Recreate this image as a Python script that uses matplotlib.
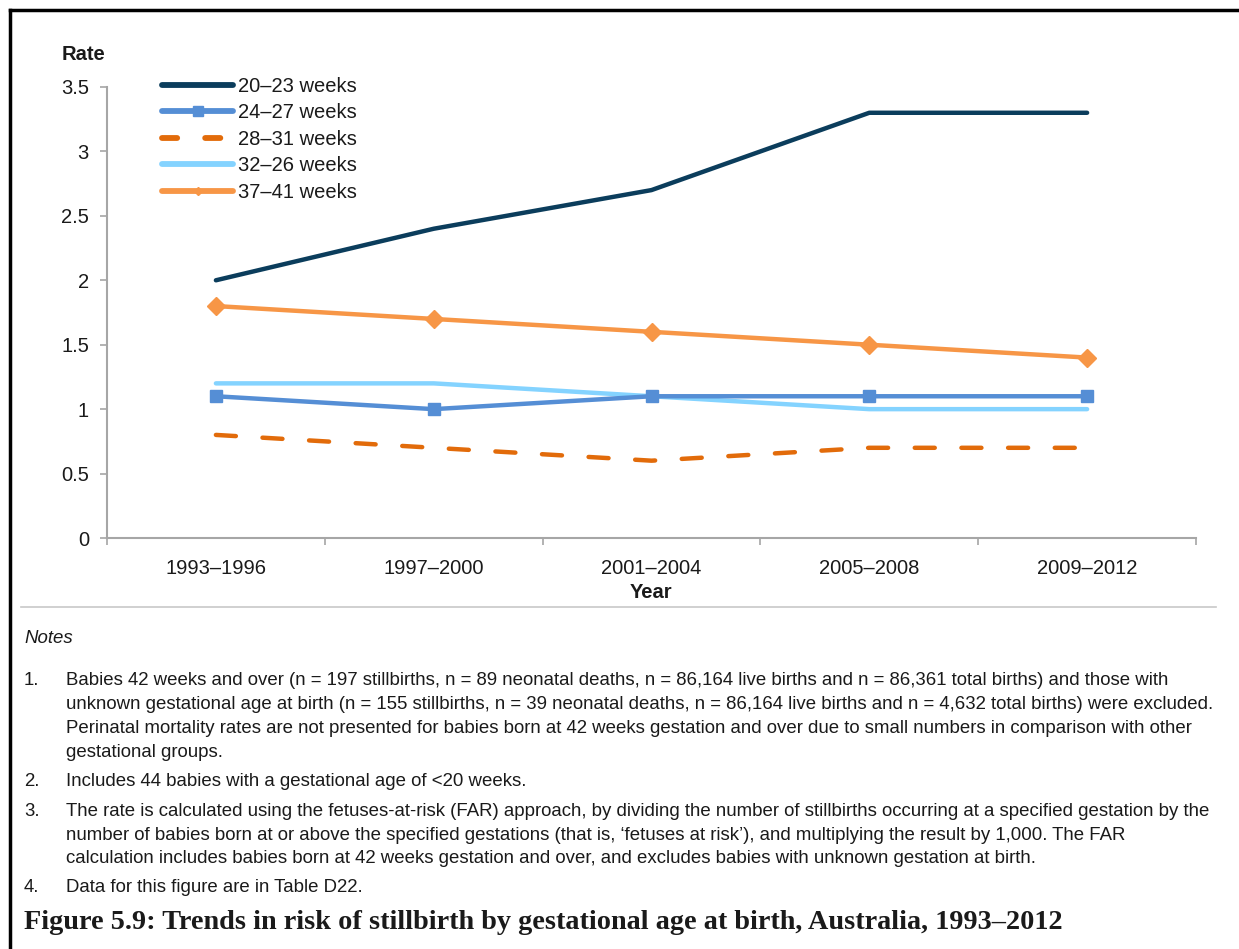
import matplotlib
matplotlib.use("Agg")
import matplotlib.pyplot as plt
from matplotlib.lines import Line2D
import numpy as np

periods = ["1993–1996", "1997–2000", "2001–2004", "2005–2008", "2009–2012"]
labels = ["20–23 weeks", "24–27 weeks", "28–31 weeks", "32–26 weeks", "37–41 weeks"]
w20_23 = [2.0, 2.4, 2.7, 3.3, 3.3]
w24_27 = [1.1, 1.0, 1.1, 1.1, 1.1]
w28_31 = [0.8, 0.7, 0.6, 0.7, 0.7]
w32_36 = [1.2, 1.2, 1.1, 1.0, 1.0]
w37_41 = [1.8, 1.7, 1.6, 1.5, 1.4]
yticks = [0, 0.5, 1, 1.5, 2, 2.5, 3, 3.5]
ytick_labels = ["0", "0.5", "1", "1.5", "2", "2.5", "3", "3.5"]

notes = [
    ("1.", ["Babies 42 weeks and over (n = 197 stillbirths, n = 89 neonatal deaths, n = 86,164 live births and n = 86,361 total births) and those with",
            "unknown gestational age at birth (n = 155 stillbirths, n = 39 neonatal deaths, n = 86,164 live births and n = 4,632 total births) were excluded.",
            "Perinatal mortality rates are not presented for babies born at 42 weeks gestation and over due to small numbers in comparison with other",
            "gestational groups."]),
    ("2.", ["Includes 44 babies with a gestational age of <20 weeks."]),
    ("3.", ["The rate is calculated using the fetuses-at-risk (FAR) approach, by dividing the number of stillbirths occurring at a specified gestation by the",
            "number of babies born at or above the specified gestations (that is, \u2018fetuses at risk\u2019), and multiplying the result by 1,000. The FAR",
            "calculation includes babies born at 42 weeks gestation and over, and excludes babies with unknown gestation at birth."]),
    ("4.", ["Data for this figure are in Table D22."]),
]
title = "Figure 5.9: Trends in risk of stillbirth by gestational age at birth, Australia, 1993–2012"

plt.rcParams['font.family'] = ['Liberation Sans', 'DejaVu Sans']

W, H = 1239, 949
fig = plt.figure(figsize=(W / 100, H / 100), dpi=100)

def fx(px):
    return px / W

def fy(py):
    return 1 - py / H

ax = fig.add_axes([fx(107), fy(538), fx(1196) - fx(107), fy(87) - fy(538)])
x = np.arange(len(periods))
lw = 3.2
c_navy = "#0B3D5C"
c_blue = "#558ED5"
c_dorange = "#E26B0A"
c_lblue = "#84D3FF"
c_orange = "#F79646"
tc = '#1A1A1A'
FS = 14.5

ax.plot(x, w20_23, color=c_navy, lw=lw, solid_capstyle='round', label=labels[0], zorder=3)
ax.plot(x, w24_27, color=c_blue, lw=lw, marker='s', ms=9, solid_capstyle='round', label=labels[1], zorder=4)
ax.plot(x, w28_31, color=c_dorange, lw=lw, dashes=(4.5, 6.0), dash_capstyle='round', label=labels[2], zorder=3)
ax.plot(x, w32_36, color=c_lblue, lw=lw, solid_capstyle='round', label=labels[3], zorder=3)
ax.plot(x, w37_41, color=c_orange, lw=lw, marker='D', ms=9.5, solid_capstyle='round', label=labels[4], zorder=3)

ax.set_xlim(-0.5, len(periods) - 0.5)
ax.set_ylim(0, 3.5)
ax.set_xticks(x)
ax.set_xticklabels(periods, fontsize=FS)
ax.set_xticks(np.arange(-0.5, len(periods), 1.0), minor=True)
ax.tick_params(axis='x', which='major', length=0, pad=15)
ax.tick_params(axis='x', which='minor', length=5, width=1.2, direction='out')
ax.set_yticks(yticks)
ax.set_yticklabels(ytick_labels, fontsize=FS)
ax.tick_params(axis='y', length=5, width=1.2, direction='out', pad=8)
for s in ['top', 'right']:
    ax.spines[s].set_visible(False)
for s in ['left', 'bottom']:
    ax.spines[s].set_color('#A6A6A6')
    ax.spines[s].set_linewidth(1.5)
ax.tick_params(axis='both', which='both', color='#A6A6A6', labelcolor=tc)

ax.set_xlabel("Year", fontsize=FS, fontweight='bold', labelpad=4, color=tc)
fig.text(fx(62), fy(55), "Rate", fontsize=FS, fontweight='bold', va='center', ha='left', color=tc)

handles = [
    Line2D([], [], color=c_navy, lw=4.2, solid_capstyle='round'),
    Line2D([], [], color=c_blue, lw=4.2, marker='s', ms=7, solid_capstyle='round'),
    Line2D([], [], color=c_dorange, lw=4.2, dashes=(2.6, 4.8), dash_capstyle='round'),
    Line2D([], [], color=c_lblue, lw=4.2, solid_capstyle='round'),
    Line2D([], [], color=c_orange, lw=4.2, marker='D', ms=4, solid_capstyle='round'),
]
leg = ax.legend(handles, labels, loc='upper left', bbox_to_anchor=(fx(162), fy(77)),
                bbox_transform=fig.transFigure, frameon=False, fontsize=FS,
                handlelength=3.55, handletextpad=0.2, labelspacing=0.37, borderpad=0,
                borderaxespad=0)
for t in leg.get_texts():
    t.set_color(tc)

# frame lines (left and top border)
fig.add_artist(Line2D([fx(10), fx(10)], [fy(10), 0], color='black', lw=2.5, transform=fig.transFigure))
fig.add_artist(Line2D([fx(10), 1], [fy(10), fy(10)], color='black', lw=2.5, transform=fig.transFigure))
# separator
fig.add_artist(Line2D([fx(21), fx(1216)], [fy(607), fy(607)], color='#C8C8C8', lw=1.2, transform=fig.transFigure))

NFS = 13.45
fig.text(fx(24), fy(643), "Notes", fontsize=NFS, style='italic', va='baseline', ha='left', color=tc)

line_ys = [[678, 702, 726, 750], [779], [809, 833, 856], [885]]
for (num, lines), ys in zip(notes, line_ys):
    fig.text(fx(24), fy(ys[0] + 7), num, fontsize=NFS, va='baseline', ha='left', color=tc)
    for ln, yy in zip(lines, ys):
        fig.text(fx(66), fy(yy + 7), ln, fontsize=NFS, va='baseline', ha='left', color=tc)

fig.text(fx(24), fy(929), title, fontsize=20.3, fontweight='bold', family=['Liberation Serif', 'DejaVu Serif'],
         va='baseline', ha='left', color=tc)

fig.savefig("out.png", dpi=100)
